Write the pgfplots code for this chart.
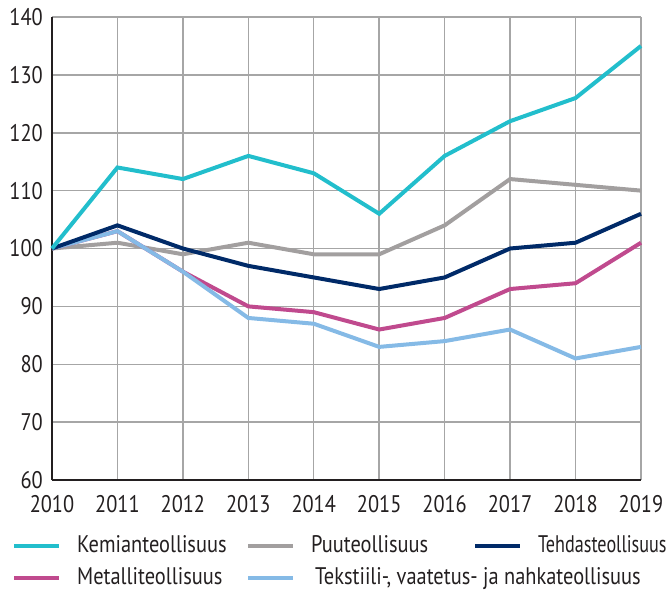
\documentclass[border=0pt]{standalone}
\usepackage{pgfplots}
\pgfplotsset{compat=1.18}
\usepackage{fontspec}
\setmainfont{PT Sans}[FakeStretch=0.85]
\definecolor{kemia}{RGB}{34,190,204}
\definecolor{puu}{RGB}{162,159,159}
\definecolor{tehdas}{RGB}{0,42,104}
\definecolor{metalli}{RGB}{192,74,142}
\definecolor{tekstiili}{RGB}{133,186,230}
\definecolor{gridc}{RGB}{166,166,166}
\definecolor{txt}{RGB}{35,31,32}
\begin{document}
\begin{tikzpicture}
\useasboundingbox (-52pt,-112pt) rectangle (616pt,480pt);
\begin{axis}[
  at={(0pt,0pt)}, anchor=south west,
  scale only axis,
  width=589pt, height=463pt,
  xmin=2010, xmax=2019, ymin=60, ymax=140,
  xtick={2010,...,2019}, ytick={60,70,...,140},
  xticklabel style={/pgf/number format/1000 sep=},
  /pgf/number format/assume math mode=true,
  ticklabel style={font=\fontsize{24}{28}\selectfont, text=txt, inner sep=0pt},
  yticklabel style={xshift=-9pt},
  xticklabel style={yshift=-15pt},
  major tick length=0pt,
  axis lines=left,
  axis line style={-, line width=2.8pt, txt},
  grid=major,
  major grid style={gridc, line width=1.5pt},
  clip=false,
  legend columns=3,
  legend cell align=left,
  legend image code/.code={\draw[#1, line width=4pt] (0pt,0pt) -- (45pt,0pt);},
  legend style={at={(rel axis cs:0,0)}, anchor=north west, xshift=-40pt, yshift=-56.5pt,
    draw=none, fill=none, inner sep=0pt, row sep=13pt,
    font=\fontsize{24}{28}\selectfont,
    nodes={inner sep=0pt, anchor=west, text=txt, text height=16pt, text depth=3pt}},
]
\addlegendimage{kemia}
\addlegendentry{\hspace*{16pt}\makebox[169pt][l]{Kemianteollisuus}}
\addlegendimage{puu}
\addlegendentry{\hspace*{16pt}\makebox[162pt][l]{Puuteollisuus}}
\addlegendimage{tehdas}
\addlegendentry{\hspace*{16pt}\scalebox{0.89}[1]{Tehdasteollisuus}}
\addlegendimage{metalli}
\addlegendentry{\hspace*{16pt}\makebox[169pt][l]{Metalliteollisuus}}
\addlegendimage{tekstiili}
\addlegendentry{\hspace*{20pt}\makebox[158pt][l]{Tekstiili-, vaatetus- ja nahkateollisuus}}

\addplot[puu, line width=4pt, forget plot] coordinates {(2010,100)(2011,101)(2012,99)(2013,101)(2014,99)(2015,99)(2016,104)(2017,112)(2018,111)(2019,110)};
\addplot[metalli, line width=4pt, forget plot] coordinates {(2010,100)(2011,103)(2012,96)(2013,90)(2014,89)(2015,86)(2016,88)(2017,93)(2018,94)(2019,101)};
\addplot[tekstiili, line width=4pt, forget plot] coordinates {(2010,100)(2011,103)(2012,96)(2013,88)(2014,87)(2015,83)(2016,84)(2017,86)(2018,81)(2019,83)};
\addplot[tehdas, line width=4pt, forget plot] coordinates {(2010,100)(2011,104)(2012,100)(2013,97)(2014,95)(2015,93)(2016,95)(2017,100)(2018,101)(2019,106)};
\addplot[kemia, line width=4pt, forget plot] coordinates {(2010,100)(2011,114)(2012,112)(2013,116)(2014,113)(2015,106)(2016,116)(2017,122)(2018,126)(2019,135)};
\end{axis}
\end{tikzpicture}
\end{document}
